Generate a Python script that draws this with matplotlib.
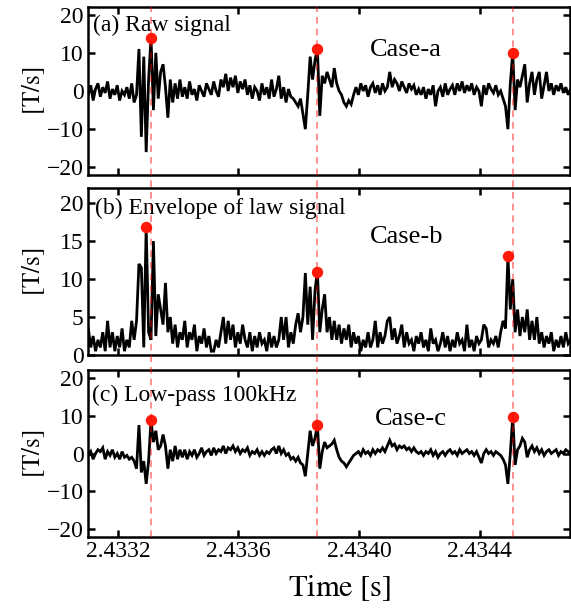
import numpy as np
import matplotlib
matplotlib.use("Agg")
import matplotlib.pyplot as plt
from matplotlib.transforms import blended_transform_factory

plt.rcParams['font.family'] = ['Liberation Serif', 'DejaVu Serif']
plt.rcParams['mathtext.fontset'] = 'stix'
plt.rcParams['axes.unicode_minus'] = True

# ---------------- data ----------------
t0 = 2.433102
dt = 8e-6

raw_signal = [
    -1, 1.5, -2.5, 0.5, 2, -1.5, 1, -0.5, 2.5, -2, 0.5, -1, 1.5, -2.5, 0, -1, 1, -2, 2, -3,
    -1, 11, -12, 9, -16, 3, 14, -5, 10, -2, 5, 7, 1, -7, 3, -3, 2, -2, 3, -1.5,
    1, -2, 2.5, -1, 0.5, -2.5, 1.5, 0, -1.5, 2, 0.5, -1, 2.5, 0, -1.5, 3, 1, 4.5, 0, 3.5,
    1, 4, -0.5, 2.5, 0.5, 3, -1, 1.5, -2, 1, 0, -2.5, 2, -1, 1, -2, 3, -1.5, 0.5, 4,
    -2, 1, -3, 0.5, -1.5, -2, -3, -4, -2, -6, -10, -1, 9, 3, 8, 11, -6.5, 4, 2, 5,
    3, 1, 6, 2, 0, -1, -3, -4, -2.5, -3.5, -1, 1, -1, 2, 0, 1.5, -1.5, 1, 2, -0.5,
    1.5, -1, 2, 0, 1, 5, 1, 3, 2, 0, 2.5, 1, -0.5, 2, 0.5, 1.5, -1, 0.5, -1, 1,
    -2, 0.5, -1, 1.5, -4, 0, 1, -1.5, 2, -1, 0.5, 1.5, -1, 2, 0, 2.5, -0.5, 1.5, 0, 2,
    -1, 1, 0, -4, 1.5, -1, 2, 0.5, -0.5, 1.5, -1, 0, -2, -4, -10, 2, 10, -5, 3, 1,
    4, 7, -3, 2, 5, -1, 3, 5, -2, 1.5, 5, 0, 2, -1, 1.5, 0, 2, -0.5, 1, -1, 0.5,
]

envelope_signal = [
    3.5, 1, 2.5, 0.5, 2, 1, 3, 0.5, 4.5, 1, 3, 0.5, 2.5, 1, 3.5, 0.5, 2, 1, 4.5, 2,
    4.5, 12, 11.5, 1, 16.8, 3, 2, 15, 2.5, 8, 6, 4, 9.5, 3, 5, 1.5, 4, 1, 3, 2,
    4.5, 1, 3, 2, 4, 0.5, 2.5, 1.5, 3.5, 1, 2.5, 0.5, 0.5, 2, 1, 3, 5, 1.5, 4.5, 2,
    4, 1, 3, 1.5, 4, 2, 1, 3, 0.5, 2.5, 1, 3, 1.5, 2, 0.5, 3, 1, 2.5, 1, 2,
    5, 2, 5, 1, 3, 1.5, 4, 5.5, 3, 5, 10.8, 4, 9, 2, 8.5, 11, 3, 6, 8, 3,
    5, 2, 4.5, 2, 4, 1.5, 3.5, 2, 4, 1, 3, 1.5, 2.5, 0.5, 2, 1, 3, 1, 2, 4.5,
    1, 3, 1.5, 2.5, 4.5, 5, 2, 3.5, 1.5, 2.5, 4, 1, 3, 1.5, 2, 0.5, 2.5, 1.5, 3, 1,
    2, 0.5, 3.5, 1.5, 2, 0.5, 1.5, 3, 1, 2.5, 0.5, 2, 1, 3, 1.5, 2, 0.5, 4, 1, 2,
    0.5, 2.5, 1.5, 2, 4, 3.5, 1, 2, 1.5, 2.5, 1, 3, 4.5, 3.5, 13, 6, 10, 3, 6, 2.5,
    5, 3, 6, 2, 4.5, 2, 5, 1.5, 3, 1, 2.5, 1.5, 3, 0.5, 2, 1, 2.5, 1, 3, 1.5, 2,
]

lowpass_signal = [
    -0.5, 0.5, -1.5, 0, 1, 0.5, 1.5, -1.5, 0.5, -0.5, 1, -1, 0, -1.5, 0.5, -1, -0.5, -1.5, -1, -2,
    -4, 7.5, -5, -2, -8, -2, 8.8, 3, 6, 1, 2, 5, 2, -4, 1, -2, 2, -1.5, 1, -1,
    1, -1.5, 0.5, -0.5, 1, -1, 0, 1.5, -0.5, 0.5, 1, -0.5, 1.5, 0, 1, 0.5, 2, 0, 1.5, 1,
    2, 0.5, 1.5, 0, 1, 0.5, 1.5, -0.5, 0.5, 0, 1, -0.5, 0.5, -0.5, 0.5, 0, 1, 1.5, 0, 2,
    0, 1, -0.5, 0, -1.5, -1, -2, -1, -2.5, -3, -6, 0, 6, 2, 4, 7.5, -4, 0.5, 3, 1.5,
    2, 2.5, 3.5, 1, -1, -2, -2.5, -3.5, -2.5, -1.5, -0.5, 0, 0.5, -0.5, 1, 0, 0.5, -0.5, 1, 0,
    1, 0.5, 1.5, 0.5, 2, 3.5, 2, 2.5, 1, 2, 1.5, 2, 1, 1.5, 0.5, 1.5, 0.5, 0, 0.5, -0.5,
    0.5, 0, 1, -0.5, 0.5, -1, 0, 0.5, -0.5, 0.5, 1, 0, 0.5, -0.5, 1, 0, 0.5, 1, 0, 0.5,
    -0.5, 0.5, -1, -2.5, 0, 1, 0, 0.5, -0.5, 0.5, 0, -0.5, -1.5, -3, -8, 0, 9.7, -3, 1, 2,
    4, 3, -1, 1, 2, 0.5, 1.5, 0, 1, -0.5, 0.5, 1, 0, 0.5, 1, -0.5, 0.5, 0, 1, 0.5, 0,
]

event_times = [2.433310, 2.433862, 2.434510]
peak_t_a = [2.433310, 2.433862, 2.434510]
peak_v_a = [14.0, 11.0, 10.0]
peak_t_b = [2.433294, 2.433862, 2.434494]
peak_v_b = [16.8, 11.0, 13.1]
peak_t_c = [2.433310, 2.433862, 2.434510]
peak_v_c = [8.8, 7.5, 9.7]

panel_titles = ["(a) Raw signal", "(b) Envelope of law signal", "(c) Low-pass 100kHz"]
case_labels = ["Case-a", "Case-b", "Case-c"]
x_ticks = [2.4332, 2.4336, 2.4340, 2.4344]
x_tick_labels = ["2.4332", "2.4336", "2.4340", "2.4344"]
y_ticks_ac = [-20, -10, 0, 10, 20]
y_ticks_b = [0, 5, 10, 15, 20]

# ---------------- figure ----------------
fig = plt.figure(figsize=(5.71, 6.10), dpi=100)
W, H = 571.0, 610.0
left, right = 87.7 / W, 570.0 / W
boxes = [(7, 175), (188, 355), (370, 537)]
axes = []
for (top, bot) in boxes:
    ax = fig.add_axes([left, 1 - bot / H, right - left, (bot - top) / H])
    axes.append(ax)

series = [raw_signal, envelope_signal, lowpass_signal]
peaks = [(peak_t_a, peak_v_a), (peak_t_b, peak_v_b), (peak_t_c, peak_v_c)]
ylims = [(-22, 22), (0, 22), (-22, 22)]
yticks = [y_ticks_ac, y_ticks_b, y_ticks_ac]
title_pos = [(0.011, 0.893), (0.015, 0.88), (0.008, 0.85)]
case_pos = [(0.66, 0.744), (0.661, 0.707), (0.67, 0.707)]

for k, ax in enumerate(axes):
    vals = np.array(series[k], dtype=float)
    t = t0 + dt * np.arange(len(vals))
    ax.plot(t, vals, color='black', lw=2.0, zorder=2, solid_joinstyle='miter')
    pt, pv = peaks[k]
    ax.plot(pt, pv, 'o', color='#ff1a0a', ms=7.2, zorder=4, clip_on=False)
    ax.set_xlim(2.4331, 2.4347)
    ax.set_ylim(*ylims[k])
    ax.set_yticks(yticks[k])
    ax.set_xticks(x_ticks)
    if k == 2:
        ax.set_xticklabels(x_tick_labels)
    else:
        ax.set_xticklabels([])
    ax.tick_params(direction='in', top=True, right=True, length=5, width=1.8,
                   labelsize=17, pad=3)
    for sp in ax.spines.values():
        sp.set_linewidth(1.8)
    ax.set_ylabel(r'$[\mathrm{T/s}]$', fontsize=18)
    ax.yaxis.set_label_coords(-0.084, 0.5)
    ax.text(title_pos[k][0], title_pos[k][1], panel_titles[k], transform=ax.transAxes,
            fontsize=17, ha='left', va='center')
    ax.text(case_pos[k][0], case_pos[k][1], case_labels[k], transform=ax.transAxes,
            fontsize=19, ha='center', va='center')

# dashed event lines spanning all panels
trans = blended_transform_factory(axes[2].transData, fig.transFigure)
y_bot = 1 - 537 / H
y_top = 1 - 7 / H
for et in event_times:
    axes[2].plot([et, et], [y_bot, y_top], transform=trans, color='red', alpha=0.5,
                 lw=1.2, ls=(0, (4, 3)), clip_on=False, zorder=5)

fig.text(340 / W, 1 - 588 / H, r'$\mathrm{Time}\ [\mathrm{s}]$', fontsize=22,
         ha='center', va='center')

fig.savefig('out.png', dpi=100)
